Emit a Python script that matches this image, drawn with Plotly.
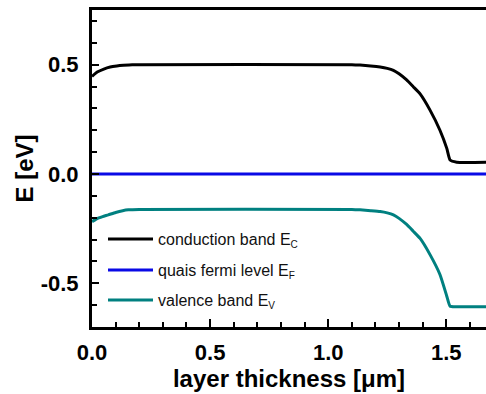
import plotly.graph_objects as go

# ---- data ----
x_cb = [0.0, 0.022, 0.05, 0.077, 0.105, 0.133, 0.17, 0.2, 1.1, 1.135, 1.18, 1.22, 1.25, 1.276, 1.30, 1.332, 1.36,
        1.389, 1.431, 1.473, 1.502, 1.516, 1.544, 1.67]
conduction = [0.446, 0.466, 0.48, 0.489, 0.494, 0.497, 0.499, 0.5, 0.5, 0.498, 0.494, 0.489, 0.483, 0.474, 0.458,
              0.43, 0.399, 0.366, 0.292, 0.20, 0.117, 0.064, 0.054, 0.054]

x_vb = [0.0, 0.02, 0.045, 0.069, 0.1, 0.13, 0.154, 0.2, 1.1, 1.135, 1.18, 1.22, 1.25, 1.276, 1.30, 1.332, 1.36,
        1.389, 1.431, 1.473, 1.502, 1.516, 1.544, 1.67]
valence = [-0.218, -0.205, -0.195, -0.187, -0.176, -0.168, -0.164, -0.162, -0.162, -0.164, -0.168, -0.172, -0.178,
           -0.187, -0.203, -0.231, -0.262, -0.295, -0.369, -0.46, -0.559, -0.605, -0.607, -0.607]

x_ef = [0.0, 1.67]
fermi = [0.0, 0.0]

x_ticks = [0.0, 0.5, 1.0, 1.5]
x_ticktext = ["0.0", "0.5", "1.0", "1.5"]
y_ticks = [-0.5, 0.0, 0.5]
y_ticktext = ["-0.5", "0.0", "0.5"]

sub = "<sub><span style='font-size:10px'>{}</span></sub>"
names = ["conduction band E" + sub.format("C"), "quais fermi level E" + sub.format("F"),
         "valence band E" + sub.format("V")]
colors = ["#000000", "#0a0ae6", "#008080"]

W, H = 486, 394
ML, MR, MT, MB = 92, 0, 10, 67
PW, PH = W - ML - MR, H - MT - MB

fig = go.Figure()
series = [(x_cb, conduction), (x_ef, fermi), (x_vb, valence)]
legend_ids = ["legend", "legend2", "legend3"]
for (xs, ys), nm, c, lg in zip(series, names, colors, legend_ids):
    fig.add_trace(go.Scatter(x=xs, y=ys, mode="lines", name=nm, legend=lg,
                             line=dict(color=c, width=3, shape="spline", smoothing=0.5)))

leg_rows = [239, 270, 300]
leg_common = dict(xref="paper", yref="paper", xanchor="left", yanchor="middle",
                  bgcolor="rgba(0,0,0,0)", borderwidth=0, itemwidth=45,
                  font=dict(family="Arial", size=16, color="#111111"))
layout_legends = {}
for lg, row in zip(legend_ids, leg_rows):
    layout_legends[lg] = dict(x=(103 - ML) / PW, y=1 - (row - MT) / PH, **leg_common)

tickfont = dict(family="Arial", size=22, color="#000000", weight="bold")
titlefont = dict(family="Arial", size=24, color="#000000", weight="bold")

fig.update_layout(
    width=W, height=H,
    margin=dict(l=ML, r=MR, t=MT, b=MB, autoexpand=False),
    paper_bgcolor="white", plot_bgcolor="white",
    showlegend=True,
    xaxis=dict(range=[0, 1.668], tickvals=x_ticks, ticktext=x_ticktext, tickfont=tickfont,
               ticks="inside", ticklen=8, tickwidth=2, tickcolor="black",
               minor=dict(dtick=0.1, ticks="inside", ticklen=5, tickwidth=2, tickcolor="black"),
               showline=True, linewidth=3, linecolor="black", mirror=True,
               showgrid=False, zeroline=False, ticklabelstandoff=4, automargin=False,
               title=dict(text="layer thickness [μm]", font=titlefont, standoff=4)),
    yaxis=dict(range=[-0.70, 0.75], tickvals=y_ticks, ticktext=y_ticktext, tickfont=tickfont,
               ticks="inside", ticklen=7, tickwidth=2, tickcolor="black",
               minor=dict(dtick=0.1, ticks="inside", ticklen=5, tickwidth=2, tickcolor="black"),
               showline=True, linewidth=3, linecolor="black", mirror=False,
               showgrid=False, zeroline=False, ticklabelstandoff=6, automargin=False,
               title=dict(text="E [eV]", font=titlefont, standoff=1)),
    **layout_legends,
)

fig.write_html("out.html", config={"displayModeBar": False},
               post_script="document.body.style.margin='0';")
